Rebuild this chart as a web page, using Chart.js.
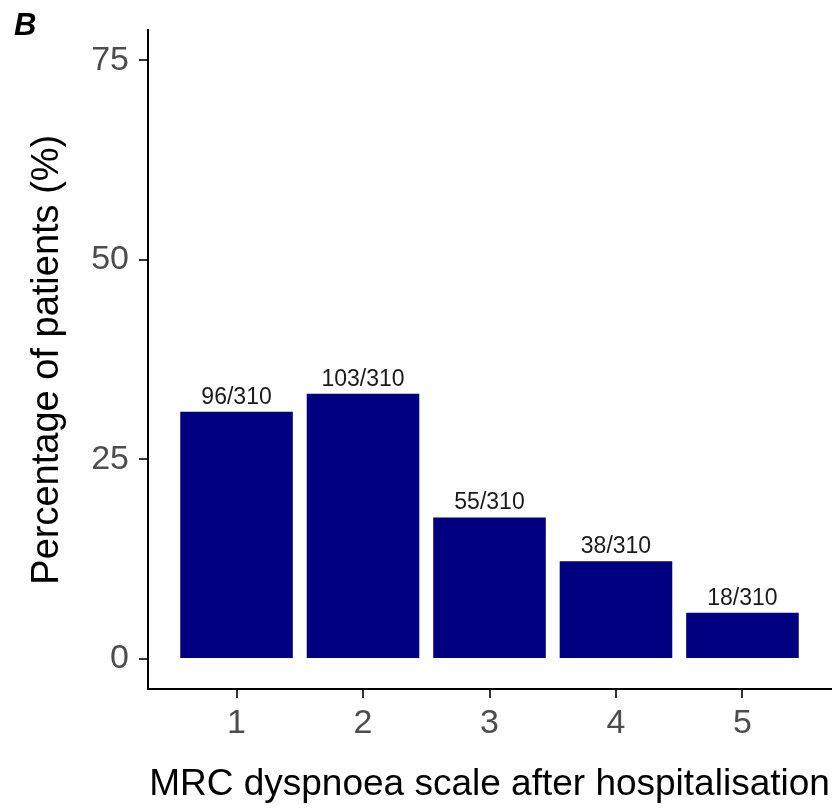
<!DOCTYPE html>
<html>
<head>
<meta charset="utf-8">
<script src="https://cdn.jsdelivr.net/npm/chart.js@4.4.1/dist/chart.umd.min.js"></script>
<style>
  body { margin: 0; background: #fff; }
  #wrap { width: 833px; height: 809px; }
</style>
</head>
<body>
<div id="wrap"><canvas id="graph" width="833" height="809"></canvas></div>
<script>
// Données : échelle MRC après hospitalisation
const categories = [1, 2, 3, 4, 5];
const counts = [96, 103, 55, 38, 18];
const total = 310;
const percentages = counts.map(c => c / total * 100);
const barLabels = counts.map(c => c + '/' + total);
const yTicks = [0, 25, 50, 75];

const FONT = "'Liberation Sans', Arial, sans-serif";

// Étiquettes au-dessus des barres
const barLabelPlugin = {
  id: 'barLabels',
  afterDatasetsDraw(chart) {
    const ctx = chart.ctx;
    const meta = chart.getDatasetMeta(0);
    ctx.save();
    ctx.font = '23px ' + FONT;
    ctx.fillStyle = '#1a1a1a';
    ctx.textAlign = 'center';
    ctx.textBaseline = 'bottom';
    meta.data.forEach((bar, i) => {
      ctx.fillText(barLabels[i], bar.x, bar.y - 3);
    });
    ctx.restore();
  }
};

// Lettre du panneau
const panelPlugin = {
  id: 'panel',
  afterDraw(chart) {
    const ctx = chart.ctx;
    ctx.save();
    ctx.font = 'italic bold 31px ' + FONT;
    ctx.fillStyle = '#000';
    ctx.textBaseline = 'alphabetic';
    ctx.fillText('B', 14, 35);
    ctx.restore();
  }
};

const ctx = document.getElementById('graph').getContext('2d');
new Chart(ctx, {
  type: 'bar',
  data: {
    datasets: [{
      data: categories.map((c, i) => ({ x: c, y: percentages[i] })),
      backgroundColor: '#000080',
      borderWidth: 0,
      barPercentage: 0.89,
      categoryPercentage: 1
    }]
  },
  plugins: [barLabelPlugin, panelPlugin],
  options: {
    responsive: false,
    animation: false,
    layout: { padding: { top: 28, right: 2, left: 0, bottom: 0 } },
    plugins: { legend: { display: false }, tooltip: { enabled: false } },
    scales: {
      x: {
        type: 'linear',
        offset: false,
        min: 0.3,
        max: 5.7,
        afterBuildTicks: scale => { scale.ticks = categories.map(v => ({ value: v })); },
        afterFit: scale => { scale.height = 120; },
        border: { display: true, color: '#000', width: 2 },
        grid: { offset: false, drawOnChartArea: false, drawTicks: true, tickLength: 9, color: '#333', lineWidth: 2 },
        ticks: { color: '#4d4d4d', font: { family: FONT, size: 34 }, padding: 5, maxRotation: 0 },
        title: {
          display: true,
          text: 'MRC dyspnoea scale after hospitalisation',
          color: '#000',
          font: { family: FONT, size: 37 },
          padding: { top: 0, bottom: 2 }
        }
      },
      y: {
        min: -3.75,
        max: 78.75,
        afterBuildTicks: scale => { scale.ticks = yTicks.map(v => ({ value: v })); },
        afterFit: scale => { scale.width = 148; },
        border: { display: true, color: '#000', width: 2 },
        grid: { drawOnChartArea: false, drawTicks: true, tickLength: 9, color: '#333', lineWidth: 2 },
        ticks: { color: '#4d4d4d', font: { family: FONT, size: 34 }, padding: 10 },
        title: {
          display: true,
          text: 'Percentage of patients (%)',
          color: '#000',
          font: { family: FONT, size: 38 },
          padding: { top: 25, bottom: 0 }
        }
      }
    }
  }
});
</script>
</body>
</html>
